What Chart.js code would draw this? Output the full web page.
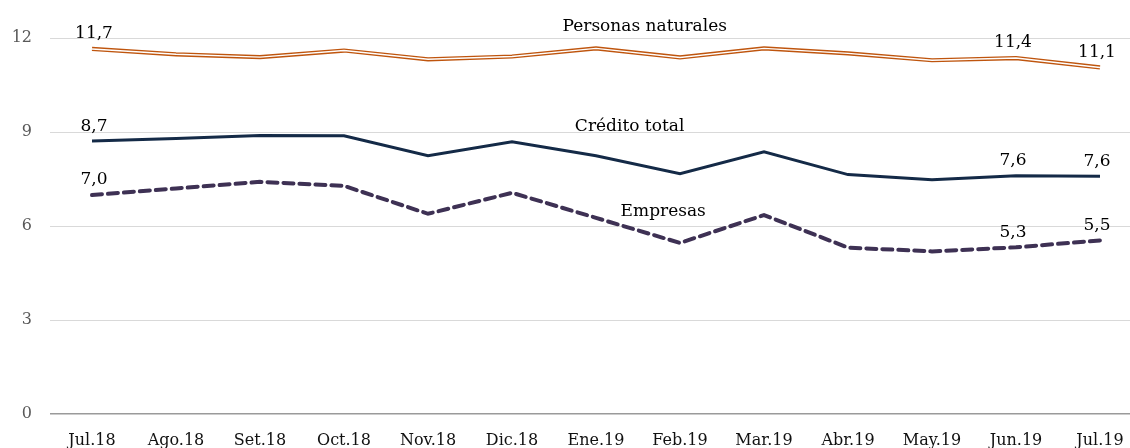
<!DOCTYPE html>
<html>
<head>
<meta charset="utf-8">
<script src="https://cdn.jsdelivr.net/npm/chart.js@4.4.1/dist/chart.umd.min.js"></script>
<style>
  body { margin: 0; background: #fff; overflow: hidden; }
  #wrap { position: relative; width: 1150px; height: 448px; }
</style>
</head>
<body>
<div id="wrap"><canvas id="chart"></canvas></div>
<script>
const months = ["Jul.18", "Ago.18", "Set.18", "Oct.18", "Nov.18", "Dic.18", "Ene.19",
  "Feb.19", "Mar.19", "Abr.19", "May.19", "Jun.19", "Jul.19"];
const personas = [11.65, 11.48, 11.39, 11.6, 11.32, 11.41, 11.67, 11.38, 11.67, 11.51, 11.29, 11.36, 11.06];
const creditoTotal = [8.71, 8.79, 8.89, 8.88, 8.24, 8.69, 8.24, 7.67, 8.37, 7.64, 7.48, 7.6, 7.59];
const empresas = [6.99, 7.2, 7.41, 7.28, 6.39, 7.06, 6.26, 5.46, 6.35, 5.31, 5.19, 5.32, 5.54];
const yTicks = [0, 3, 6, 9, 12];
const labelledPoints = [0, 11, 12];

const FONT = "'DejaVu Serif', 'Liberation Serif', serif";

// series names written on the plot, placed by category index / value
const seriesNames = [
  { text: "Personas naturales", x: 6.58, y: 12.35 },
  { text: "Crédito total", x: 6.4, y: 9.16 },
  { text: "Empresas", x: 6.8, y: 6.45 },
];

const labelsPlugin = {
  id: "labelsPlugin",
  afterDatasetsDraw(chart) {
    const ctx = chart.ctx;
    const xs = chart.scales.x;
    const ys = chart.scales.y;
    ctx.save();
    ctx.fillStyle = "#000";
    ctx.textAlign = "center";
    ctx.textBaseline = "middle";
    ctx.font = "17px " + FONT;

    // data labels for first and last two months
    [personas, creditoTotal, empresas].forEach((series) => {
      labelledPoints.forEach((i) => {
        const px = xs.getPixelForValue(i);
        const py = ys.getPixelForValue(series[i]);
        const txt = series[i].toFixed(1).replace(".", ",");
        ctx.fillText(txt, px + (i === 0 ? 2 : -3), py - 15);
      });
    });

    seriesNames.forEach((s) => {
      ctx.fillText(s.text, xs.getPixelForValue(s.x), ys.getPixelForValue(s.y));
    });
    ctx.restore();
  },
};

new Chart(document.getElementById("chart"), {
  type: "line",
  data: {
    labels: months,
    datasets: [
      {
        // white core of the double line
        data: personas,
        borderColor: "#ffffff",
        borderWidth: 1.4,
        pointRadius: 0,
      },
      {
        label: "Personas naturales",
        data: personas,
        borderColor: "#BF550E",
        borderWidth: 4.2,
        pointRadius: 0,
      },
      {
        label: "Crédito total",
        data: creditoTotal,
        borderColor: "#142A47",
        borderWidth: 3,
        pointRadius: 0,
      },
      {
        label: "Empresas",
        data: empresas,
        borderColor: "#3E3154",
        borderWidth: 4,
        borderDash: [10, 6],
        borderCapStyle: "round",
        pointRadius: 0,
      },
    ],
  },
  options: {
    responsive: true,
    maintainAspectRatio: false,
    animation: false,
    layout: { padding: { top: 38, left: 0, right: 8, bottom: 0 } },
    plugins: {
      legend: { display: false },
      tooltip: { enabled: false },
    },
    scales: {
      x: {
        offset: true,
        grid: { display: false },
        border: { display: false },
        ticks: {
          color: "#111",
          font: { family: FONT, size: 16 },
          padding: 9,
          maxRotation: 0,
          autoSkip: false,
        },
        afterFit(scale) {
          scale.height = 34;
        },
      },
      y: {
        min: 0,
        max: 12,
        afterBuildTicks(scale) {
          scale.ticks = yTicks.map((v) => ({ value: v }));
        },
        grid: {
          color: (c) => (c.tick && c.tick.value === 0 ? "#9a9a9a" : "#d9d9d9"),
          lineWidth: (c) => (c.tick && c.tick.value === 0 ? 1.5 : 1),
          drawTicks: false,
        },
        border: { display: false },
        ticks: {
          color: "#595959",
          font: { family: FONT, size: 16 },
          padding: 18,
        },
        afterFit(scale) {
          scale.width = 50;
        },
      },
    },
  },
  plugins: [labelsPlugin],
});
</script>
</body>
</html>
